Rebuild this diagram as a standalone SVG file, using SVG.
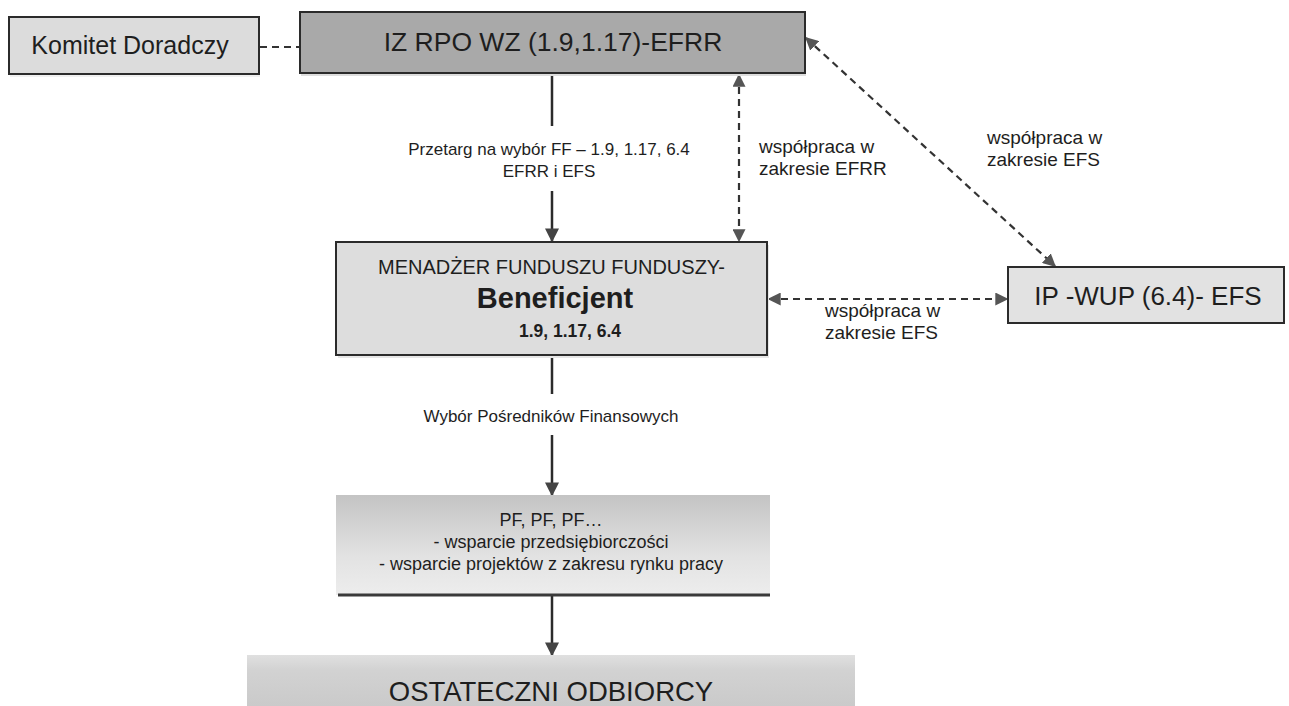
<svg xmlns="http://www.w3.org/2000/svg" width="1289" height="706" viewBox="0 0 1289 706">
<style>
.box{stroke:#2b2b2b;stroke-width:2}
.t{font-family:"Liberation Sans",Arial,sans-serif;fill:#1e1e1e}
.solid{stroke:#2b2b2b;stroke-width:2.5;fill:none}
.dash{stroke:#333;stroke-width:2.2;fill:none;stroke-dasharray:7 5}
</style>
<defs>
<marker id="ahd" viewBox="0 0 10 10" refX="9" refY="5" markerWidth="13" markerHeight="13" orient="auto-start-reverse" markerUnits="userSpaceOnUse">
<path d="M0,0 L10,5 L0,10 z" fill="#555"/>
</marker>
<marker id="ahs" viewBox="0 0 10 10" refX="9" refY="5" markerWidth="14" markerHeight="14" orient="auto" markerUnits="userSpaceOnUse">
<path d="M0,0 L10,5 L0,10 z" fill="#444"/>
</marker>
<linearGradient id="gpf" x1="0" y1="0" x2="0" y2="1">
<stop offset="0" stop-color="#c4c4c4"/>
<stop offset="0.6" stop-color="#e2e2e2"/>
<stop offset="1" stop-color="#ededed"/>
</linearGradient>
<linearGradient id="gos" x1="0" y1="0" x2="0" y2="1">
<stop offset="0" stop-color="#e0e0e0"/>
<stop offset="0.3" stop-color="#d2d2d2"/>
<stop offset="1" stop-color="#cacaca"/>
</linearGradient>
</defs>
<rect width="1289" height="706" fill="#ffffff"/>

<g id="connectors">
<line class="dash" x1="260" y1="47" x2="300" y2="47"/>
<line class="solid" x1="552" y1="74" x2="552" y2="126"/>
<line class="solid" x1="552" y1="191" x2="552" y2="241" marker-end="url(#ahs)"/>
<line class="dash" x1="739" y1="75" x2="739" y2="241" marker-start="url(#ahd)" marker-end="url(#ahd)"/>
<line class="dash" x1="806" y1="38" x2="1055" y2="266" marker-start="url(#ahd)" marker-end="url(#ahd)"/>
<line class="dash" x1="769" y1="299" x2="1007" y2="299" marker-start="url(#ahd)" marker-end="url(#ahd)"/>
<line class="solid" x1="552" y1="356" x2="552" y2="394"/>
<line class="solid" x1="552" y1="435" x2="552" y2="495" marker-end="url(#ahs)"/>
<line class="solid" x1="552" y1="596" x2="552" y2="655" marker-end="url(#ahs)"/>
<text class="t" font-size="17" text-anchor="middle" x="549" y="155">Przetarg na wybór FF – 1.9, 1.17, 6.4</text>
<text class="t" font-size="17" text-anchor="middle" x="549" y="177">EFRR i EFS</text>
<text class="t" font-size="19" x="759" y="153">współpraca w</text>
<text class="t" font-size="19" x="759" y="175">zakresie EFRR</text>
<text class="t" font-size="19" x="987" y="144">współpraca w</text>
<text class="t" font-size="19" x="987" y="166">zakresie EFS</text>
<text class="t" font-size="19" x="825" y="317">współpraca w</text>
<text class="t" font-size="19" x="825" y="339">zakresie EFS</text>
<text class="t" font-size="17" text-anchor="middle" x="551" y="422">Wybór Pośredników Finansowych</text>
</g>

<g id="komitet">
<rect x="10" y="19" width="250" height="58" fill="#e6e6e6" opacity="0.6"/>
<rect class="box" x="9" y="17" width="250" height="57" fill="#dcdcdc"/>
<text class="t" font-size="25" text-anchor="middle" x="130" y="54">Komitet Doradczy</text>
</g>

<g id="iz">
<rect x="301" y="14" width="505" height="62" fill="#dedede"/>
<rect class="box" x="300" y="12" width="505" height="61" fill="#a9a9a9"/>
<text class="t" font-size="26.5" text-anchor="middle" x="553" y="51">IZ RPO WZ (1.9,1.17)-EFRR</text>
</g>

<g id="menadzer">
<rect x="338" y="245" width="431" height="113" fill="#e6e6e6"/>
<rect class="box" x="336" y="242" width="431" height="113" fill="#dddddd"/>
<text class="t" font-size="20" text-anchor="middle" x="551.5" y="274">MENADŻER FUNDUSZU FUNDUSZY-</text>
<text class="t" font-size="29" font-weight="bold" text-anchor="middle" x="555" y="308">Beneficjent</text>
<text class="t" font-size="17.5" font-weight="bold" text-anchor="middle" x="570" y="337">1.9, 1.17, 6.4</text>
</g>

<g id="ipwup">
<rect class="box" x="1008" y="267" width="276" height="56" fill="#e2e2e2"/>
<text class="t" font-size="26" text-anchor="middle" x="1148" y="305">IP -WUP (6.4)- EFS</text>
</g>

<g id="pf">
<rect x="336" y="495" width="434" height="100" fill="url(#gpf)"/>
<line x1="338" y1="595" x2="770" y2="595" stroke="#3a3a3a" stroke-width="3"/>
<text class="t" font-size="18" text-anchor="middle" x="551" y="526">PF, PF, PF…</text>
<text class="t" font-size="18" text-anchor="middle" x="551" y="548">- wsparcie przedsiębiorczości</text>
<text class="t" font-size="18" text-anchor="middle" x="551" y="570">- wsparcie projektów z zakresu rynku pracy</text>
</g>

<g id="ostateczni">
<rect x="247" y="655" width="608" height="51" fill="url(#gos)"/>
<text class="t" font-size="27.5" text-anchor="middle" x="551" y="701">OSTATECZNI ODBIORCY</text>
</g>
</svg>
